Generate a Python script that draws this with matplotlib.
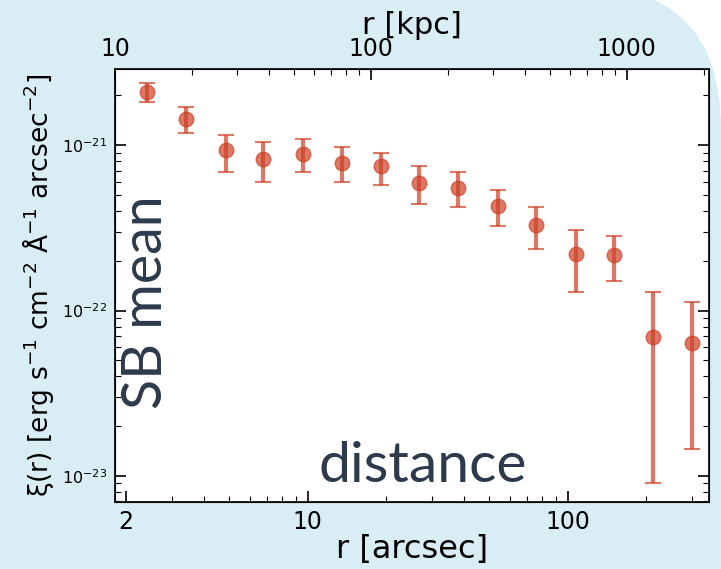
import numpy as np
import matplotlib
matplotlib.use("Agg")
import matplotlib.pyplot as plt
from matplotlib.patches import FancyBboxPatch
from matplotlib.ticker import FixedLocator, FixedFormatter, LogLocator, NullFormatter

# ---- data ----
r_arcsec = [2.41, 3.41, 4.84, 6.77, 9.63, 13.6, 19.1, 26.9, 38.0, 53.9, 75.9, 108, 151, 214, 301]
xi_mean = [2.10e-21, 1.45e-21, 9.3e-22, 8.2e-22, 8.85e-22, 7.8e-22, 7.46e-22, 5.94e-22,
           5.51e-22, 4.28e-22, 3.27e-22, 2.19e-22, 2.16e-22, 6.93e-23, 6.4e-23]
xi_upper = [2.37e-21, 1.71e-21, 1.15e-21, 1.04e-21, 1.09e-21, 9.7e-22, 8.98e-22, 7.53e-22,
            6.89e-22, 5.34e-22, 4.22e-22, 3.08e-22, 2.82e-22, 1.29e-22, 1.13e-22]
xi_lower = [1.82e-21, 1.18e-21, 6.9e-22, 6.0e-22, 6.9e-22, 5.95e-22, 5.78e-22, 4.44e-22,
            4.22e-22, 3.24e-22, 2.34e-22, 1.29e-22, 1.50e-22, 9.1e-24, 1.45e-23]
bottom_ticks = [2, 10, 100]
bottom_labels = ["2", "10", "100"]
top_ticks = [10, 100, 1000]
top_labels = ["10", "100", "1000"]
top_limits_kpc = (9.97, 2100)

W, H, DPI = 721, 569, 100
fig = plt.figure(figsize=(W / DPI, H / DPI), dpi=DPI, facecolor="white")

# card background with rounded top-right corner
R = 142
card = FancyBboxPatch((-400, -400), W + 400, H + 14 + 400,
                      boxstyle=f"round,pad=0,rounding_size={R}",
                      transform=None, facecolor="#d9eef4", edgecolor="none", zorder=-10)
fig.add_artist(card)

ax = fig.add_axes([115 / W, 1 - 502 / H, (709 - 115) / W, (502 - 69) / H])
ax.set_facecolor("white")

x = np.array(r_arcsec)
y = np.array(xi_mean)
yerr = np.vstack([y - np.array(xi_lower), np.array(xi_upper) - y])

ax.errorbar(x, y, yerr=yerr, fmt="o", color="#cc4125", alpha=0.7,
            markersize=10.5, elinewidth=3, capsize=6, capthick=1.5, zorder=3)

ax.set_xscale("log")
ax.set_yscale("log")
ax.set_xlim(1.818, 350)
ax.set_ylim(6.95e-24, 2.89e-21)

ax.xaxis.set_major_locator(FixedLocator(bottom_ticks))
ax.xaxis.set_major_formatter(FixedFormatter(bottom_labels))
ax.xaxis.set_minor_locator(LogLocator(base=10, subs=np.arange(2, 10)))
ax.xaxis.set_minor_formatter(NullFormatter())
ax.yaxis.set_major_locator(FixedLocator([1e-23, 1e-22, 1e-21]))
ax.yaxis.set_major_formatter(FixedFormatter([r"$10^{-23}$", r"$10^{-22}$", r"$10^{-21}$"]))
ax.yaxis.set_minor_locator(LogLocator(base=10, subs=np.arange(2, 10)))
ax.yaxis.set_minor_formatter(NullFormatter())

ax.tick_params(axis="both", which="major", direction="in", length=8, width=1.2,
               top=False, right=True)
ax.tick_params(axis="both", which="minor", direction="in", length=4, width=0.8,
               top=False, right=True)
ax.tick_params(axis="x", which="major", labelsize=17, pad=6)
ax.tick_params(axis="y", which="major", labelsize=11.5, pad=6)
for s in ax.spines.values():
    s.set_linewidth(1.2)

ax.set_xlabel("r [arcsec]", fontsize=23, labelpad=0)
ax.set_ylabel(r"ξ(r) [erg s$^{-1}$ cm$^{-2}$ Å$^{-1}$ arcsec$^{-2}$]", fontsize=19, labelpad=4)

# top axis in kpc
ax2 = ax.twiny()
ax2.set_xscale("log")
ax2.set_xlim(*top_limits_kpc)
ax2.xaxis.set_major_locator(FixedLocator(top_ticks))
ax2.xaxis.set_major_formatter(FixedFormatter(top_labels))
ax2.xaxis.set_minor_locator(LogLocator(base=10, subs=np.arange(2, 10)))
ax2.xaxis.set_minor_formatter(NullFormatter())
ax2.tick_params(axis="x", which="major", direction="in", length=8, width=1.2, labelsize=17, pad=6)
ax2.tick_params(axis="x", which="minor", direction="in", length=4, width=0.8)
ax2.set_xlabel("r [kpc]", fontsize=22, labelpad=2)

# overlay annotations
overlay_color = "#2c3a4b"
fig.text(147 / W, 1 - 302 / H, "SB mean", rotation=90, fontsize=40, color=overlay_color,
         family="Lato", weight="normal", ha="center", va="center")
fig.text(423 / W, 1 - 466 / H, "distance", fontsize=41, color=overlay_color,
         family="Lato", weight="normal", ha="center", va="center")

fig.savefig("out.png", dpi=DPI)
